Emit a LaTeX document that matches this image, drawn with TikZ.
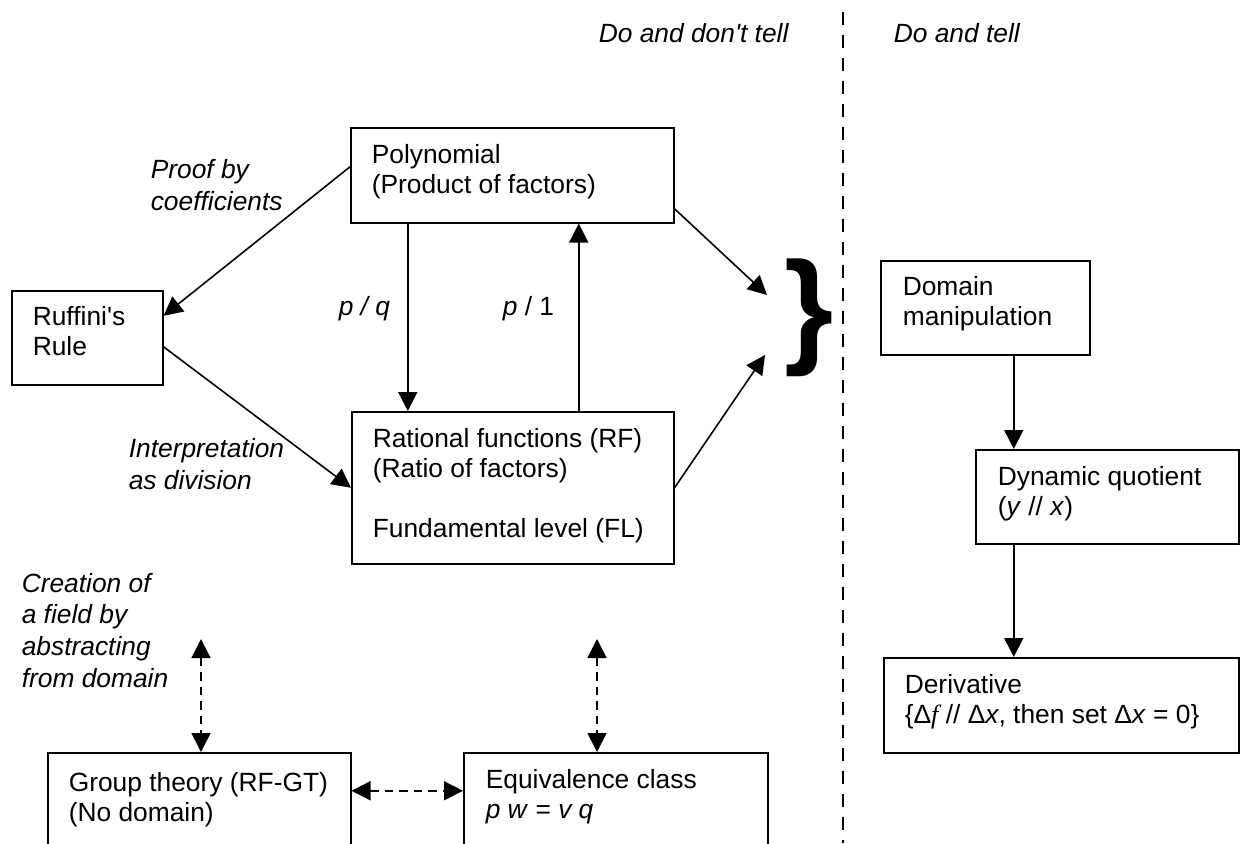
\documentclass[tikz,border=0pt]{standalone}
\usepackage{fontspec}
\setmainfont{Liberation Sans}
\newfontfamily\serifit{Liberation Serif}
\usetikzlibrary{arrows.meta}

\begin{document}
\begin{tikzpicture}[x=0.02cm, y=-0.02cm, line width=0.9pt,
    >={Triangle[length=0.38cm, width=0.38cm]},
    box/.style={draw, anchor=north west, inner sep=0pt},
    txt/.style={anchor=base west, inner sep=0pt, align=left, font=\fontsize{15}{17}\selectfont},
    lbl/.style={txt, font=\fontsize{15}{18}\selectfont\itshape},
    link/.style={->},
    dlink/.style={<->, dash pattern=on 0.17cm off 0.12cm}]

\useasboundingbox (0,0) rectangle (1241,843);
\clip (0,0) rectangle (1241,843);

% =============================================
% CABECERA: dos columnas
% =============================================
\node[lbl] (donttell) at (598,42) {Do and don\textquotesingle t tell};
\node[lbl] (dotell) at (893,42) {Do and tell};
\draw[line width=0.8pt, dash pattern=on 0.26cm off 0.2cm] (843,12) -- (843,843);

% =============================================
% BLOQUE IZQUIERDO
% =============================================
% Cajas (texto anclado en la linea base de su ultima linea)
\node[box, minimum width=6.46cm, minimum height=1.9cm] (poly) at (350,127) {};
\node[txt] (polytext) at (371,193) {Polynomial\\(Product of factors)};

\node[box, minimum width=3.02cm, minimum height=1.88cm] (ruff) at (11,290) {};
\node[txt] (rufftext) at (32,355) {Ruffini\textquotesingle s\\Rule};

\node[box, minimum width=6.44cm, minimum height=3.04cm] (rf) at (351,411) {};
\node[txt] (rftext) at (372,537) {Rational functions (RF)\\(Ratio of factors)\\[17pt]Fundamental level (FL)};

\node[box, minimum width=6.06cm, minimum height=2.4cm] (gt) at (47,752) {};
\node[txt] (gttext) at (68,821) {Group theory (RF-GT)\\(No domain)};

\node[box, minimum width=6.08cm, minimum height=2.4cm] (eq) at (463,752) {};
\node[txt] (eqtext) at (485,818) {Equivalence class\\\textit{p w} = \textit{v q}};

% Etiquetas
\node[lbl] (proof) at (150,210) {Proof by\\coefficients};
\node[lbl] (pq) at (338,315) {p / q};
\node[txt] (p1) at (502,315) {\textit{p} / 1};
\node[lbl] (interp) at (128,489) {Interpretation\\as division};
\node[lbl] (creation) at (21,687) {Creation of\\a field by\\abstracting\\from domain};

% Llave
\node[anchor=base west, inner sep=0pt, font=\fontsize{72}{72}\selectfont\bfseries] (brace) at (784,350) {\}};
\coordinate (bra) at (767,295);
\coordinate (brb) at (765,355);

% Flechas
\draw[link] ([yshift=0.17cm]poly.west) -- ([yshift=0.44cm]ruff.east);
\draw[link] ([yshift=-0.18cm]ruff.east) -- (rf.west);
\draw[link] ([xshift=-2.09cm]poly.south) -- ([xshift=-2.09cm]poly.south |- rf.north);
\draw[link] ([xshift=1.33cm]poly.south |- rf.north) -- ([xshift=1.33cm]poly.south);
\draw[link] ([yshift=-0.67cm]poly.east) -- (bra);
\draw[link] (rf.east) -- (brb);

% Flechas discontinuas
\coordinate (gtup) at (201,639);
\coordinate (equp) at (597,639);
\draw[dlink] (gtup) -- (gtup |- gt.north);
\draw[dlink] (equp) -- (equp |- eq.north);
\draw[dlink] ([yshift=0.44cm]gt.east) -- ([yshift=0.44cm]gt.east -| eq.west);

% =============================================
% BLOQUE DERECHO
% =============================================
\node[box, minimum width=4.18cm, minimum height=1.88cm] (dom) at (880,260) {};
\node[txt] (domtext) at (902,325) {Domain\\manipulation};

\node[box, minimum width=5.26cm, minimum height=1.88cm] (dyn) at (975,449) {};
\node[txt] (dyntext) at (997,515) {Dynamic quotient\\(\textit{y} // \textit{x})};

\node[box, minimum width=7.1cm, minimum height=1.9cm] (der) at (883,657) {};
\node[txt] (dertext) at (904,723) {Derivative\\\{Δ{\serifit\itshape f} // Δ\textit{x}, then set Δ\textit{x} = 0\}};

\draw[link] ([xshift=0.57cm]dom.south) -- ([xshift=0.57cm]dom.south |- dyn.north);
\draw[link] ([xshift=0.57cm]dom.south |- dyn.south) -- ([xshift=0.57cm]dom.south |- der.north);

\end{tikzpicture}
\end{document}
